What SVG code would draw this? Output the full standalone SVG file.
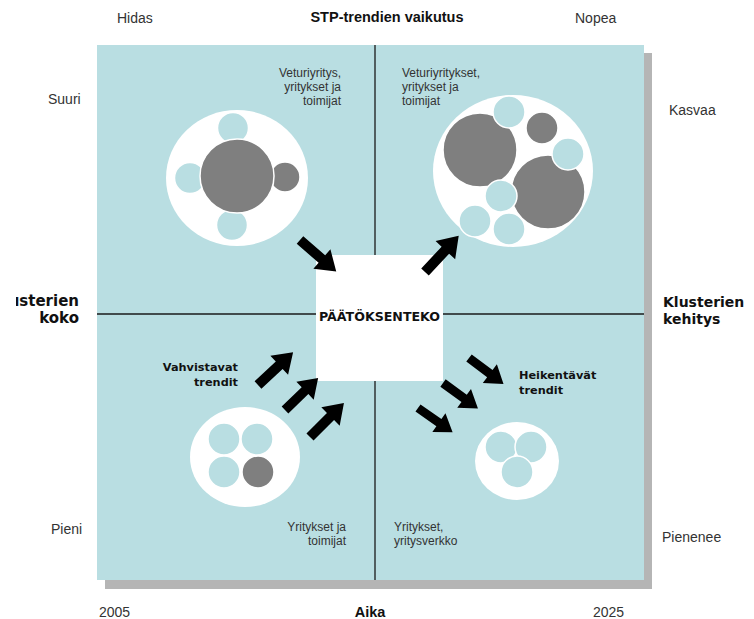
<svg xmlns="http://www.w3.org/2000/svg" xmlns:xlink="http://www.w3.org/1999/xlink" width="754" height="619" viewBox="0 0 754 619">
<style>
.lbl{font-family:"Liberation Sans",Arial,sans-serif;font-size:14px;fill:#333}
.q{font-family:"Liberation Sans",Arial,sans-serif;font-size:12px;fill:#333}
.b{font-family:"Liberation Sans",Arial,sans-serif;font-weight:bold;fill:#111}
.v{font-family:"DejaVu Sans",Verdana,sans-serif;font-weight:bold;fill:#111}
.wc{fill:#fff}
.lc{fill:#b9dee2;stroke:#fff;stroke-width:1.5}
.dc{fill:#7f7f7f;stroke:#fff;stroke-width:1.5}
.arr{fill:#000}
</style>
<defs>
<path id="arr" d="M0,-5 H29 V-13 L48,0 L29,13 V5 H0 Z"/>
<clipPath id="leftcrop"><rect x="16" y="280" width="90" height="60"/></clipPath>
</defs>
<rect width="754" height="619" fill="#fff"/>
<g id="background">
<rect x="105" y="53" width="547" height="536" fill="#b5b5b5"/>
<rect x="97" y="45" width="547" height="535" fill="#b9dee2"/>
<line x1="375" y1="45" x2="375" y2="580" stroke="#1a1a1a" stroke-width="1.3"/>
<line x1="97" y1="314" x2="644" y2="314" stroke="#1a1a1a" stroke-width="1.3"/>
</g>
<g id="axis-labels">
<text class="lbl" x="117" y="23">Hidas</text>
<text class="b" x="387" y="22" font-size="14.5" text-anchor="middle">STP-trendien vaikutus</text>
<text class="lbl" x="575" y="23">Nopea</text>
<text class="lbl" x="48" y="104">Suuri</text>
<text class="lbl" x="669" y="115">Kasvaa</text>
<text class="lbl" x="51" y="534">Pieni</text>
<text class="lbl" x="662" y="542">Pienenee</text>
<text class="lbl" x="99" y="617">2005</text>
<text class="b" x="370" y="617" font-size="14.5" text-anchor="middle">Aika</text>
<text class="lbl" x="593" y="617">2025</text>
<g clip-path="url(#leftcrop)">
<text class="v" x="79" y="306" font-size="15" text-anchor="end">Klusterien</text>
</g>
<text class="v" x="79" y="323" font-size="15" text-anchor="end">koko</text>
<text class="v" x="663" y="307" font-size="14">Klusterien</text>
<text class="v" x="663" y="324" font-size="14">kehitys</text>
</g>
<g id="quadrant-tl">
<text class="q" x="341" y="77" text-anchor="end">Veturiyritys,</text>
<text class="q" x="341" y="91" text-anchor="end">yritykset ja</text>
<text class="q" x="341" y="105" text-anchor="end">toimijat</text>
<ellipse class="wc" cx="237" cy="178" rx="71" ry="68"/>
<circle class="lc" cx="233" cy="128" r="15.5"/>
<circle class="lc" cx="232" cy="225" r="15.5"/>
<circle class="lc" cx="190" cy="178" r="15.5"/>
<circle class="dc" cx="285" cy="177" r="15"/>
<circle class="dc" cx="237" cy="176" r="37"/>
</g>
<g id="quadrant-tr">
<text class="q" x="402" y="77">Veturiyritykset,</text>
<text class="q" x="402" y="91">yritykset ja</text>
<text class="q" x="402" y="105">toimijat</text>
<ellipse class="wc" cx="513" cy="171" rx="80" ry="76"/>
<circle class="dc" cx="480" cy="150" r="37"/>
<circle class="dc" cx="548" cy="192" r="37"/>
<circle class="dc" cx="542" cy="128" r="16"/>
<circle class="lc" cx="509" cy="112" r="16"/>
<circle class="lc" cx="568" cy="154" r="16"/>
<circle class="lc" cx="501" cy="196" r="16"/>
<circle class="lc" cx="475" cy="221" r="16"/>
<circle class="lc" cx="509" cy="229" r="16"/>
</g>
<g id="quadrant-bl">
<text class="v" x="238" y="371" font-size="11.3" text-anchor="end">Vahvistavat</text>
<text class="v" x="238" y="386" font-size="11.3" text-anchor="end">trendit</text>
<ellipse class="wc" cx="245" cy="457" rx="55" ry="50"/>
<circle class="lc" cx="224" cy="439" r="16"/>
<circle class="lc" cx="257" cy="439" r="16"/>
<circle class="lc" cx="224" cy="472" r="16"/>
<circle class="dc" cx="258" cy="472" r="16"/>
<text class="q" x="346" y="531" text-anchor="end">Yritykset ja</text>
<text class="q" x="346" y="545" text-anchor="end">toimijat</text>
</g>
<g id="quadrant-br">
<text class="v" x="519" y="379" font-size="11.3">Heikentävät</text>
<text class="v" x="519" y="394" font-size="11.3">trendit</text>
<ellipse class="wc" cx="517" cy="461" rx="42" ry="39"/>
<circle class="lc" cx="501" cy="447" r="16"/>
<circle class="lc" cx="531" cy="447" r="16"/>
<circle class="lc" cx="517" cy="472" r="16"/>
<text class="q" x="394" y="531">Yritykset,</text>
<text class="q" x="394" y="545">yritysverkko</text>
</g>
<g id="decision">
<rect x="316" y="255" width="127" height="126" fill="#fff"/>
<text class="v" x="319" y="321" font-size="11.5" textLength="121" lengthAdjust="spacingAndGlyphs">PÄÄTÖKSENTEKO</text>
</g>
<g id="connectors" class="arr">
<use xlink:href="#arr" transform="translate(300,240) rotate(41)"/>
<use xlink:href="#arr" transform="translate(425,272) rotate(-47) scale(1.03)"/>
<use xlink:href="#arr" transform="translate(258,385) rotate(-43)"/>
<use xlink:href="#arr" transform="translate(285,410) rotate(-44) scale(0.96)"/>
<use xlink:href="#arr" transform="translate(310,437) rotate(-45)"/>
<use xlink:href="#arr" transform="translate(469,358) rotate(37) scale(0.9)"/>
<use xlink:href="#arr" transform="translate(443,383) rotate(36) scale(0.9)"/>
<use xlink:href="#arr" transform="translate(418,408) rotate(35) scale(0.88)"/>
</g>
</svg>
